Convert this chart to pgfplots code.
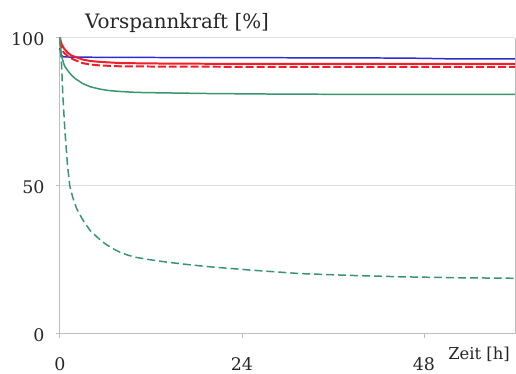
\documentclass[border=0pt]{standalone}
\usepackage{pgfplots}
\pgfplotsset{compat=1.18}
\usepackage{fontspec}
\setmainfont{DejaVu Serif}
\definecolor{cblue}{RGB}{45,45,205}
\definecolor{cred}{RGB}{240,30,40}
\definecolor{cgreen}{RGB}{55,150,110}
\definecolor{cgray}{RGB}{190,190,190}
\definecolor{cgrid}{RGB}{225,225,225}
\begin{document}
\begin{tikzpicture}
\begin{axis}[
  name=main,
  scale only axis,
  width=456bp, height=296.6bp,
  xmin=0, xmax=60, ymin=0, ymax=100,
  xtick={0,24,48}, ytick={0,50,100},
  axis x line*=bottom, axis y line*=left,
  axis line style={cgray, line width=0.8pt},
  ymajorgrids, grid style={cgrid, line width=0.8pt},
  tick style={cgray, line width=0.8pt},
  tick align=outside, major tick length=4bp,
  /pgf/number format/assume math mode=true,
  ticklabel style={font=\fontsize{17.5}{20}\selectfont, text=black!85},
  xticklabel style={yshift=-16bp},
  yticklabel style={xshift=-8bp, yshift=-2bp},
  clip=false,
]
\draw[cgrid, line width=0.8pt] (rel axis cs:0,1) -- (rel axis cs:1,1);
\draw[cgray, line width=0.8pt] (rel axis cs:1,0) -- (rel axis cs:1,1);
\addplot[cblue, line width=1.5pt] coordinates {(0,96.5)(0.2,94)(0.5,93.5)(2,93.4)(10,93.3)(30,93.2)(45,93.1)(48,93.0)(52,92.8)(60,92.8)};
\addplot[cred, line width=2pt] coordinates {(0,100)(0.2,98)(0.5,96.5)(1,95)(1.5,94)(2,93.5)(3,92.6)(4,92.1)(5.3,91.8)(8,91.4)(15,91.2)(30,91.1)(60,91.1)};
\addplot[cred, line width=2pt, dash pattern=on 8bp off 3bp] coordinates {(0,99)(0.2,97)(0.5,95)(1,93.8)(1.5,93)(2,92.4)(3,91.4)(4,90.9)(5.3,90.6)(8,90.3)(15,90.2)(30,90.1)(60,90.1)};
\addplot[cgreen, line width=1.5pt] coordinates {(0,100)(0.1,96)(0.3,93)(0.6,90.5)(1,89)(1.5,87.4)(2,86.2)(3,84.5)(4,83.4)(5.3,82.6)(6.5,82.1)(8,81.8)(10,81.5)(12,81.4)(20,81.1)(30,80.9)(45,80.8)(60,80.8)};
\addplot[cgreen, line width=1.5pt, dash pattern=on 8bp off 4bp] coordinates {(0,100)(0.1,95)(0.22,91)(0.4,80)(0.66,68.6)(1,57)(1.3,50)(1.7,46)(2.2,42.3)(3,38.5)(4,34.8)(5,32.4)(6,30.3)(7,28.7)(8,27.4)(9,26.5)(10,25.8)(11.8,25.0)(14,24.2)(17,23.3)(19.7,22.6)(25,21.5)(31.6,20.3)(38,19.7)(45,19.2)(52,18.9)(60,18.7)};
\node[anchor=base west, inner sep=0pt, font=\fontsize{20}{24}\selectfont, text=black!85] at ([xshift=25bp,yshift=9.4bp]rel axis cs:0,1) {Vorspannkraft [\%]};
\node[anchor=base west, inner sep=0pt, font=\fontsize{16.5}{20}\selectfont, text=black!85] at ([xshift=-67bp,yshift=-26bp]rel axis cs:1,0) {Zeit [h]};
\end{axis}
\pgfresetboundingbox
\path[use as bounding box] ([xshift=-60bp,yshift=-39.7bp]main.south west) rectangle ([xshift=1bp,yshift=37.7bp]main.north east);
\end{tikzpicture}
\end{document}
